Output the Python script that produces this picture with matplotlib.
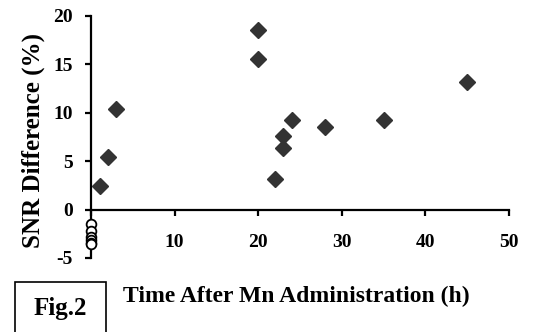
import matplotlib
matplotlib.use("Agg")
import matplotlib.pyplot as plt
from matplotlib.patches import Rectangle

# data
hours = [1.1, 2.0, 3.0, 20, 20, 22, 23, 23, 24, 28, 35, 45]
snr_diff = [2.4, 5.4, 10.4, 18.6, 15.6, 3.2, 7.6, 6.4, 9.3, 8.5, 9.3, 13.2]

# open circles at t = 0
hours0 = [0, 0, 0, 0, 0, 0]
snr_diff0 = [-1.5, -2.2, -2.8, -3.1, -3.4, -3.6]

x_ticks = [0, 10, 20, 30, 40, 50]
y_ticks = [-5, 0, 5, 10, 15, 20]

plt.rcParams['font.family'] = ['Liberation Serif', 'DejaVu Serif']
plt.rcParams['font.weight'] = 'bold'
plt.rcParams['axes.unicode_minus'] = False

fig = plt.figure(figsize=(5.33, 3.32), dpi=100)
ax = fig.add_axes([91 / 533, 74 / 332, 418 / 533, 242 / 332])

ax.plot(hours, snr_diff, linestyle='none', marker='D', markersize=8,
        color='#333333', clip_on=False, zorder=3)
ax.plot(hours0, snr_diff0, linestyle='none', marker='o', markersize=7,
        markerfacecolor='white', markeredgecolor='black', markeredgewidth=1.3,
        clip_on=False, zorder=4)

ax.set_xlim(0, 50)
ax.set_ylim(-5, 20)
ax.set_xticks(x_ticks)
ax.set_yticks(y_ticks)

for s in ['top', 'right']:
    ax.spines[s].set_visible(False)
ax.spines['bottom'].set_position(('data', 0))
ax.spines['left'].set_linewidth(1.6)
ax.spines['bottom'].set_linewidth(1.6)

ax.tick_params(axis='y', direction='out', length=4, width=1.6, pad=9, labelsize=14)
ax.tick_params(axis='x', direction='out', length=4.5, width=1.6, pad=13, labelsize=14)
for lab in ax.get_xticklabels() + ax.get_yticklabels():
    lab.set_fontweight('bold')

fig.text(33 / 533, 1 - 140 / 332, 'SNR Difference (%)', rotation=90,
         ha='center', va='center', fontsize=18, fontweight='bold')
fig.text(123 / 533, 1 - 296 / 332, 'Time After Mn Administration (h)',
         ha='left', va='center', fontsize=17, fontweight='bold')

fig.patches.append(Rectangle((15 / 533, -0.01), 91 / 533, 50 / 332 + 0.01,
                             transform=fig.transFigure, fill=False,
                             edgecolor='black', linewidth=1.2))
fig.text(60 / 533, 1 - 309 / 332, 'Fig.2', ha='center', va='center',
         fontsize=18, fontweight='bold')

fig.savefig('out.png', dpi=100)
